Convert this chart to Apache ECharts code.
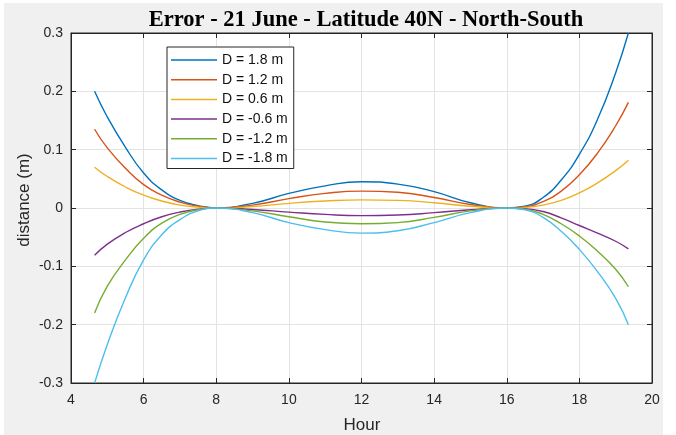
<!DOCTYPE html>
<html>
<head>
<meta charset="utf-8">
<script src="https://cdn.jsdelivr.net/npm/echarts@6/dist/echarts.min.js"></script>
<style>
html,body{margin:0;padding:0;background:#fff;}
#bg{position:absolute;left:4px;top:3px;width:659px;height:432px;background:#f0f0f0;}
#c{position:absolute;left:0;top:0;width:676px;height:435px;}
</style>
</head>
<body>
<div id="bg"></div>
<div id="c"></div>
<script>
const hours = [4.65, 5, 5.5, 6, 6.5, 7, 7.5, 8, 9, 10, 11, 12, 13, 14, 15, 16, 16.5, 17, 17.5, 18, 18.5, 19, 19.35];
const d18  = [0.200, 0.156, 0.104, 0.060, 0.031, 0.013, 0.004, 0, 0.008, 0.025, 0.038, 0.045, 0.041, 0.028, 0.009, 0, 0.003, 0.018, 0.048, 0.092, 0.152, 0.232, 0.300];
const d12  = [0.135, 0.103, 0.068, 0.040, 0.022, 0.010, 0.003, 0, 0.005, 0.016, 0.025, 0.029, 0.027, 0.018, 0.006, 0, 0.002, 0.011, 0.029, 0.057, 0.094, 0.141, 0.181];
const d06  = [0.070, 0.054, 0.036, 0.022, 0.012, 0.005, 0.0015, 0, 0.0025, 0.008, 0.012, 0.014, 0.013, 0.009, 0.003, 0, 0.001, 0.005, 0.013, 0.026, 0.043, 0.064, 0.082];
const dm06 = [-0.081, -0.062, -0.042, -0.027, -0.015, -0.007, -0.002, 0, -0.0025, -0.007, -0.011, -0.013, -0.012, -0.008, -0.003, 0, -0.001, -0.006, -0.017, -0.030, -0.043, -0.057, -0.070];
const dm12 = [-0.180, -0.134, -0.089, -0.052, -0.026, -0.011, -0.003, 0, -0.005, -0.015, -0.024, -0.027, -0.025, -0.016, -0.005, 0, -0.002, -0.011, -0.027, -0.048, -0.074, -0.105, -0.135];
const dm18 = [-0.300, -0.234, -0.154, -0.089, -0.046, -0.020, -0.005, 0, -0.008, -0.025, -0.037, -0.043, -0.039, -0.025, -0.008, 0, -0.003, -0.016, -0.040, -0.071, -0.109, -0.155, -0.200];
const seriesNames = ['D = 1.8 m', 'D = 1.2 m', 'D = 0.6 m', 'D = -0.6 m', 'D = -1.2 m', 'D = -1.8 m'];
const seriesData = [d18, d12, d06, dm06, dm12, dm18];
const colors = ['#0072BD', '#D95319', '#EDB120', '#7E2F8E', '#77AC30', '#4DBEEE'];

const chart = echarts.init(document.getElementById('c'), null, {renderer: 'canvas'});
const axisCol = '#262626';
const gridCol = '#e3e3e3';
const sans = 'Liberation Sans, Arial, sans-serif';
const tickFont = {color: '#262626', fontSize: 14, fontFamily: sans};

const option = {
  animation: false,
  backgroundColor: 'transparent',
  color: colors,
  title: {
    text: 'Error - 21 June - Latitude 40N - North-South',
    left: 361, top: 4, textAlign: 'center',
    textStyle: {fontFamily: 'Liberation Serif, Times New Roman, serif', fontWeight: 'bold', fontSize: 22.5, color: '#000'}
  },
  graphic: [{
    type: 'text', x: 24, y: 200, rotation: Math.PI / 2,
    style: {text: 'distance (m)', fill: '#262626', font: '17px ' + sans, textAlign: 'center', textVerticalAlign: 'middle'}
  }, {
    type: 'text', x: 362, y: 425,
    style: {text: 'Hour', fill: '#262626', font: '17px ' + sans, textAlign: 'center', textVerticalAlign: 'middle'}
  }],
  grid: {left: 71, right: 24, top: 33, bottom: 52, show: true, backgroundColor: '#fff', borderColor: axisCol, borderWidth: 1},
  legend: {
    orient: 'vertical', left: 167, top: 47,
    backgroundColor: '#fff', borderColor: axisCol, borderWidth: 1,
    padding: [5, 6, 2, 4],
    icon: 'rect',
    itemWidth: 46, itemHeight: 1.5, itemGap: 3.7,
    textStyle: {fontSize: 14, color: '#111', fontFamily: sans, lineHeight: 16},
    data: seriesNames
  },
  xAxis: [{
    type: 'value', min: 4, max: 20, interval: 2,
    axisLine: {show: true, onZero: false, lineStyle: {color: axisCol}},
    axisTick: {show: true, inside: true, length: 5, lineStyle: {color: axisCol}},
    axisLabel: Object.assign({margin: 10}, tickFont),
    splitLine: {show: true, lineStyle: {color: gridCol}}
  }, {
    type: 'value', min: 4, max: 20, interval: 2, position: 'top',
    axisLine: {show: true, onZero: false, lineStyle: {color: axisCol}},
    axisTick: {show: true, inside: true, length: 5, lineStyle: {color: axisCol}},
    axisLabel: {show: false}, splitLine: {show: false}
  }],
  yAxis: [{
    type: 'value', min: -0.3, max: 0.3, interval: 0.1,
    axisLine: {show: true, onZero: false, lineStyle: {color: axisCol}},
    axisTick: {show: true, inside: true, length: 5, lineStyle: {color: axisCol}},
    axisLabel: Object.assign({margin: 8, formatter: v => (Math.abs(v) < 1e-9 ? '0' : (+v.toFixed(1)).toString())}, tickFont),
    splitLine: {show: true, lineStyle: {color: gridCol}}
  }, {
    type: 'value', min: -0.3, max: 0.3, interval: 0.1, position: 'right',
    axisLine: {show: true, onZero: false, lineStyle: {color: axisCol}},
    axisTick: {show: true, inside: true, length: 5, lineStyle: {color: axisCol}},
    axisLabel: {show: false}, splitLine: {show: false}
  }],
  series: seriesNames.map((name, i) => ({
    name: name, type: 'line', smooth: 0.5, symbol: 'none', clip: true,
    lineStyle: {width: 1.4, color: colors[i]},
    itemStyle: {color: colors[i]},
    data: hours.map((h, j) => [h, seriesData[i][j]])
  }))
};
chart.setOption(option);
</script>
</body>
</html>
